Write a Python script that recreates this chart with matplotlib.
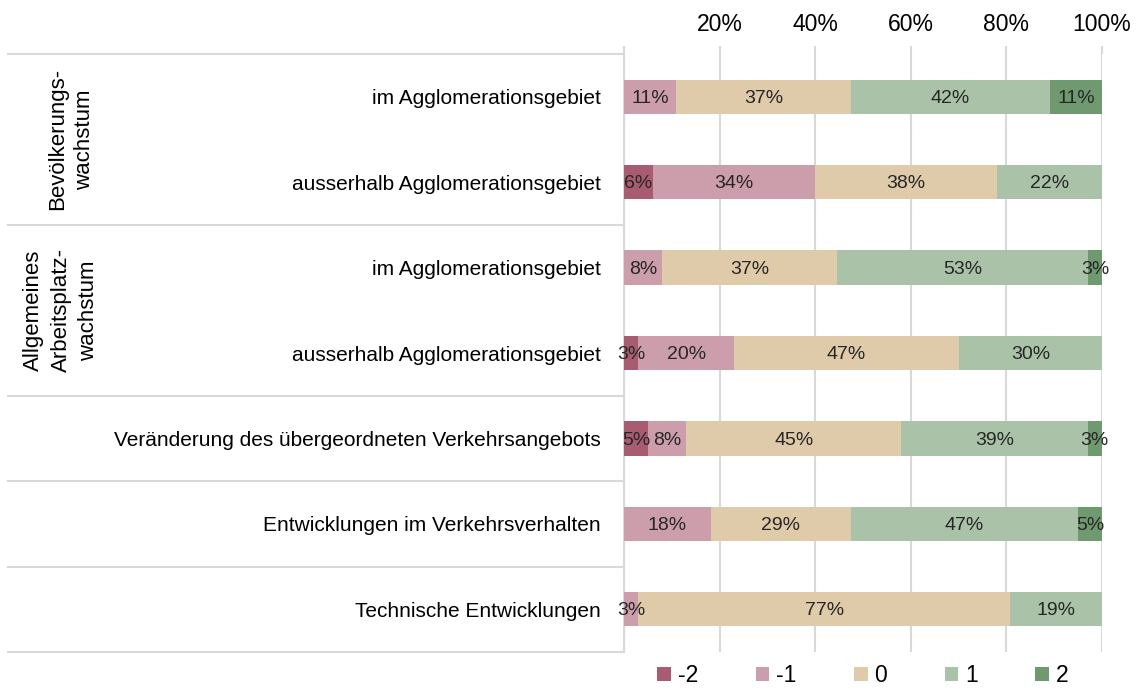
import numpy as np
import matplotlib.pyplot as plt
from matplotlib.transforms import blended_transform_factory

# Daten
kategorien = [
    "im Agglomerationsgebiet",
    "ausserhalb Agglomerationsgebiet",
    "im Agglomerationsgebiet",
    "ausserhalb Agglomerationsgebiet",
    "Veränderung des übergeordneten Verkehrsangebots",
    "Entwicklungen im Verkehrsverhalten",
    "Technische Entwicklungen",
]
stufen = ["-2", "-1", "0", "1", "2"]
wert_m2 = [0, 6, 0, 3, 5, 0, 0]
wert_m1 = [11, 34, 8, 20, 8, 18, 3]
wert_0 = [37, 38, 37, 47, 45, 29, 77]
wert_p1 = [42, 22, 53, 30, 39, 47, 19]
wert_p2 = [11, 0, 3, 0, 3, 5, 0]
gruppen = ["Bevölkerungs-\nwachstum", "Allgemeines\nArbeitsplatz-\nwachstum"]
gruppen_pos = [0.5, 2.5]
trennlinien = [-0.5, 1.5, 3.5, 4.5, 5.5, 6.5]
xticks = [0, 0.2, 0.4, 0.6, 0.8, 1.0]
xticklabels = ["", "20%", "40%", "60%", "80%", "100%"]

farben = ["#a85c72", "#cc9eab", "#dfcaa9", "#a9c2a8", "#6f9a70"]
grau = "#d9d9d9"
plt.rcParams['font.family'] = ["Liberation Sans", "DejaVu Sans"]

werte = np.array([wert_m2, wert_m1, wert_0, wert_p1, wert_p2], dtype=float)
anteile = werte / werte.sum(axis=0)  # auf 100% normieren

fig = plt.figure(figsize=(11.41, 6.89), dpi=100)
ax = fig.add_axes([624 / 1141, 1 - 652 / 689, 478 / 1141, 598 / 689])

y = np.arange(len(kategorien))
links = np.zeros(len(kategorien))
for i in range(len(stufen)):
    ax.barh(y, anteile[i], left=links, height=0.4, color=farben[i], label=stufen[i], zorder=3)
    for j in range(len(kategorien)):
        if werte[i, j] > 0:
            ax.text(links[j] + anteile[i, j] / 2, y[j] + 0.02, f"{int(werte[i, j])}%",
                    ha="center", va="center", fontsize=14, color="#262626", zorder=4)
    links = links + anteile[i]

ax.set_xlim(0, 1)
ax.set_ylim(6.5, -0.5)
ax.xaxis.tick_top()
ax.set_xticks(xticks)
ax.set_xticklabels(xticklabels, fontsize=16.5, color="#000000")
ax.tick_params(axis="x", length=6, width=1.5, color=grau, pad=7)
ax.grid(axis="x", color=grau, linewidth=1.5, zorder=0)
ax.set_yticks(y)
ax.set_yticklabels(kategorien, fontsize=15, color="#000000")
ax.tick_params(axis="y", length=0, pad=17)
for s in ["top", "right", "bottom"]:
    ax.spines[s].set_visible(False)
ax.spines["left"].set_color(grau)
ax.spines["left"].set_linewidth(1.5)

# Tabellenlinien links
tr = blended_transform_factory(ax.transAxes, ax.transData)
for t in trennlinien:
    ax.plot([-(624 - 8) / 478, 0], [t, t], color=grau, lw=1.5, transform=tr, clip_on=False)

gx = [-(624 - 71) / 478, -(624 - 61) / 478]
for g, p, xx in zip(gruppen, gruppen_pos, gx):
    ax.text(xx, p, g, rotation=90, ha="center", va="center", fontsize=16,
            linespacing=1.4, transform=tr, multialignment="center")

ax.legend(loc="upper center", bbox_to_anchor=(0.5, -12 / 598), ncol=5, frameon=False,
          fontsize=16.5, handlelength=0.6, handleheight=0.6, handletextpad=0.3,
          columnspacing=2.5, borderaxespad=0, borderpad=0)

fig.savefig("out.png", dpi=100)
